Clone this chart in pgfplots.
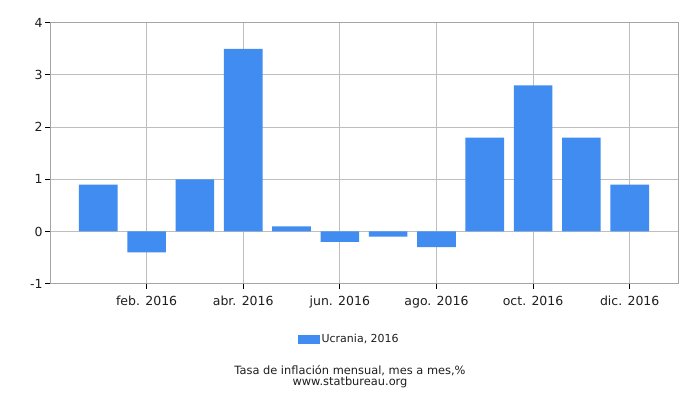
\documentclass[border=0pt]{standalone}
\usepackage{fontspec}
\setmainfont{DejaVu Sans}
\usepackage{pgfplots}
\pgfplotsset{compat=1.18}
\definecolor{barblue}{RGB}{65,140,240}
\definecolor{gridgray}{RGB}{190,190,190}
\definecolor{framegray}{RGB}{165,165,165}
\definecolor{txt}{RGB}{30,30,30}

\begin{document}
\begin{tikzpicture}
\path[use as bounding box] (0bp,0bp) rectangle (700bp,400bp);
\begin{axis}[
  at={(50bp,116.3bp)}, anchor=south west,
  scale only axis, width=628bp, height=261bp,
  xmin=0, xmax=13, ymin=-1, ymax=4,
  xtick={2,4,6,8,10,12},
  xticklabels={feb. 2016,abr. 2016,jun. 2016,ago. 2016,oct. 2016,dic. 2016},
  ytick={-1,0,1,2,3,4},
  yticklabels={-1,0,1,2,3,4},
  xtick pos=bottom, ytick pos=left,
  tick align=outside,
  major tick length=5bp,
  tick style={black, line width=0.8bp},
  grid=major,
  major grid style={gridgray, line width=1bp},
  axis line style={framegray, line width=1bp},
  tick label style={text=txt, font=\fontsize{12.5bp}{15bp}\selectfont},
  xticklabel style={yshift=-4bp},
  yticklabel style={xshift=1bp},
  ybar, bar width=0.8,
  legend style={at={(0.4764,-0.214)}, anchor=center, draw=none,
    font=\fontsize{11bp}{13bp}\selectfont, text=txt},
  legend image code/.code={\fill[barblue] (-8bp,-4.5bp) rectangle (14bp,4.5bp);},
]
\addplot[fill=barblue, draw=none] coordinates {
  (1,0.9) (2,-0.4) (3,1.0) (4,3.5) (5,0.1) (6,-0.2)
  (7,-0.1) (8,-0.3) (9,1.8) (10,2.8) (11,1.8) (12,0.9)
};
\addlegendentry{Ucrania, 2016}
\end{axis}
\node[text=txt, font=\fontsize{11.4bp}{13bp}\selectfont] at (350bp,29.3bp) {Tasa de inflación mensual, mes a mes,\%};
\node[text=txt, font=\fontsize{11.4bp}{13bp}\selectfont] at (350bp,17.5bp) {www.statbureau.org};
\end{tikzpicture}
\end{document}
